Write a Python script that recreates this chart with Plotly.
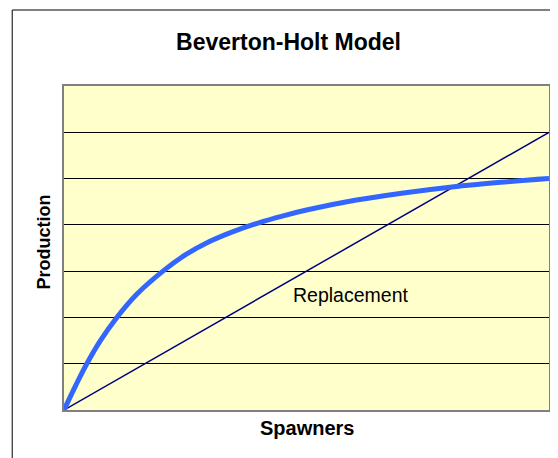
import plotly.graph_objects as go

# Data (x: spawners, y: production, arbitrary units)
spawners = [0, 0.25, 0.47, 0.75, 1.09, 1.5, 2.04, 2.5, 3, 3.5, 4, 4.5, 5, 6, 7, 8, 9, 10]
production = [0, 0.55, 1.0, 1.5, 2.0, 2.5, 3.0, 3.35, 3.64, 3.86, 4.04, 4.19, 4.32, 4.53, 4.69, 4.82, 4.92, 5.0]
replace_x = [0, 10]
replace_y = [0, 6]
label_text = "Replacement"
label_pos = (5.91, 2.48)

FONT = "Liberation Sans, Arial"

fig = go.Figure()
fig.add_trace(go.Scatter(x=replace_x, y=replace_y, mode="lines",
                         line=dict(color="#000080", width=1.5), hoverinfo="skip"))
fig.add_trace(go.Scatter(x=spawners, y=production, mode="lines",
                         line=dict(color="#3366FF", width=5, shape="spline"), hoverinfo="skip"))

fig.add_annotation(x=label_pos[0], y=label_pos[1], text=label_text, showarrow=False,
                   font=dict(family=FONT, size=19.5, color="black"))

# axis titles
fig.add_annotation(xref="paper", yref="paper", x=0.5, y=-0.0556, text="<b>Spawners</b>",
                   showarrow=False, xanchor="center", yanchor="middle",
                   font=dict(family=FONT, size=20, color="black"))
fig.add_annotation(xref="paper", yref="paper", x=-0.0411, y=0.517, text="<b>Production</b>",
                   showarrow=False, xanchor="center", yanchor="middle", textangle=-90,
                   font=dict(family=FONT, size=18, color="black"))

# outer chart border
fig.add_shape(type="rect", xref="paper", yref="paper",
              x0=-52/487, y0=-0.3, x1=1.2, y1=400/324,
              line=dict(color="black", width=1), layer="below")

fig.update_layout(
    width=550, height=450,
    margin=dict(l=56, r=7, t=78, b=48),
    paper_bgcolor="white",
    plot_bgcolor="#FFFFCC",
    showlegend=False,
    title=dict(text="<b>Beverton-Holt Model</b>", x=0.51, xanchor="center",
               y=1 - 34/450, yanchor="middle",
               font=dict(family=FONT, size=23, color="black")),
    xaxis=dict(range=[0, 10], showgrid=False, zeroline=False, showticklabels=False, ticks="",
               showline=True, linecolor="#808080", linewidth=2, mirror=True),
    yaxis=dict(range=[0, 7], dtick=1, showgrid=True, gridcolor="black", gridwidth=1,
               zeroline=False, showticklabels=False, ticks="",
               showline=True, linecolor="#808080", linewidth=2, mirror=True),
)

fig.write_html("out.html")
